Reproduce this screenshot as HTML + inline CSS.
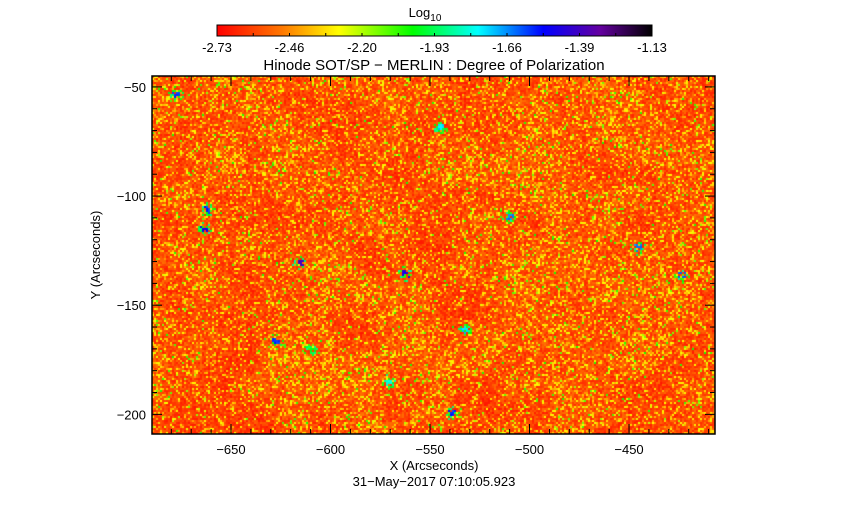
<!DOCTYPE html>
<html><head><meta charset="utf-8">
<style>
body{margin:0;background:#fff;width:868px;height:512px;overflow:hidden;position:relative;font-family:"Liberation Sans",sans-serif;}
svg{position:absolute;left:0;top:0}
canvas{position:absolute;left:152px;top:76px}
</style></head><body>
<canvas id="map" width="563" height="358"></canvas>
<svg id="s" width="868" height="512"></svg>
<script>
// Data
const xTicks=[-650,-600,-550,-500,-450];
const yTicks=[-50,-100,-150,-200];
const cbTicks=["-2.73","-2.46","-2.20","-1.93","-1.66","-1.39","-1.13"];
const blobX=[-678,-662,-664,-616,-563,-545,-533,-510,-446,-628,-539,-424,-610,-571];
const blobY=[-53,-106,-115,-130,-135,-68,-161,-109,-123,-166,-199,-136,-170,-185];
const blobV=[0.75,0.75,0.8,0.85,0.8,0.65,0.65,0.7,0.7,0.75,0.75,0.7,0.5,0.6];
// axes
const X0=-689.7,X1=-406.8,Y0=-45,Y1=-209;
const L=152,R=715,T=76,B=434;
const sx=v=>L+(v-X0)/(X1-X0)*(R-L);
const sy=v=>T+(v-Y0)/(Y1-Y0)*(B-T);
const stops=[[0,[255,0,0]],[0.15,[255,120,0]],[0.28,[255,255,0]],[0.45,[0,255,0]],[0.6,[0,255,255]],[0.75,[0,0,255]],[0.88,[100,0,160]],[1,[0,0,0]]];
function cmap(v){v=Math.max(0,Math.min(1,v));for(let i=1;i<stops.length;i++){if(v<=stops[i][0]){const a=stops[i-1],b=stops[i];const t=(v-a[0])/(b[0]-a[0]);return a[1].map((c,k)=>Math.round(c+(b[1][k]-c)*t));}}return [0,0,0];}
// map texture (seeded)
let seed=12345;const rnd=()=>{seed=(seed*1103515245+12345)&0x7fffffff;return seed/0x7fffffff;};
const c=document.getElementById('map'),ctx=c.getContext('2d');
const W=563,H=358,img=ctx.createImageData(W,H);
const cw=2,ch=2,gx=Math.ceil(W/cw),gy=Math.ceil(H/ch);
// low-frequency patchiness
const lf=[];const LW=Math.ceil(gx/12)+2,LH=Math.ceil(gy/12)+2;
for(let j=0;j<LH;j++){lf[j]=[];for(let i=0;i<LW;i++)lf[j][i]=rnd();}
function lfv(i,j){const fx=i/12,fy=j/12,x0=Math.floor(fx),y0=Math.floor(fy),tx=fx-x0,ty=fy-y0;return lf[y0][x0]*(1-tx)*(1-ty)+lf[y0][x0+1]*tx*(1-ty)+lf[y0+1][x0]*(1-tx)*ty+lf[y0+1][x0+1]*tx*ty;}
const grid=[];
for(let j=0;j<gy;j++){grid[j]=[];for(let i=0;i<gx;i++){const m=lfv(i,j);let v=0.02+0.1*rnd()+0.04*m;if(rnd()<0.1+0.2*m)v=0.18+0.12*rnd();if(rnd()<0.01+0.05*m*m)v=0.32+0.12*rnd();grid[j][i]=v;}}
for(let k=0;k<blobX.length;k++){const px=(sx(blobX[k])-L)/cw,py=(sy(blobY[k])-T)/ch;for(let j=-4;j<=4;j++)for(let i=-4;i<=4;i++){const d=Math.sqrt(i*i+j*j);const gi=Math.round(px+i+(rnd()-0.5)),gj=Math.round(py+j+(rnd()-0.5));if(gi<0||gj<0||gi>=gx||gj>=gy)continue;if(d<1.6&&rnd()<0.85)grid[gj][gi]=Math.max(grid[gj][gi],blobV[k]-0.05*rnd());else if(d<3.2&&rnd()<0.5)grid[gj][gi]=Math.max(grid[gj][gi],0.4+0.15*rnd());}}
for(let y=0;y<H;y++)for(let x=0;x<W;x++){const col=cmap(grid[Math.floor(y/ch)][Math.floor(x/cw)]);const o=(y*W+x)*4;img.data[o]=col[0];img.data[o+1]=col[1];img.data[o+2]=col[2];img.data[o+3]=255;}
ctx.putImageData(img,0,0);
// svg
const s=document.getElementById('s'),NS='http://www.w3.org/2000/svg';
function el(t,a,p){const e=document.createElementNS(NS,t);for(const k in a)e.setAttribute(k,a[k]);(p||s).appendChild(e);return e;}
function txt(x,y,str,anchor,size,name){const e=el('text',{x:x,y:y,'text-anchor':anchor||'middle','font-size':size||13,fill:'#000','font-family':'Liberation Sans, sans-serif'});e.textContent=str;return e;}
// colorbar
const defs=el('defs',{});const g=el('linearGradient',{id:'cb',x1:0,x2:1,y1:0,y2:0},defs);
stops.forEach(st=>el('stop',{offset:st[0],'stop-color':'rgb('+st[1].join(',')+')'},g));
const cb=el('rect',{x:217,y:25,width:435,height:11,fill:'url(#cb)',stroke:'#000','stroke-width':1});

cbTicks.forEach((t,i)=>{const x=217+i*435/(cbTicks.length-1);txt(x,52,t,'middle',13,'colorbar-tick-label');});
for(let i=0;i<=12;i++){const x=217+i*435/12;el('line',{x1:x,x2:x,y1:33,y2:36,stroke:'#000'});}
const lg=txt(425,17,'Log','middle',13,'colorbar-title');const sub=el('tspan',{dy:4,'font-size':10},lg);sub.textContent='10';
txt(434,70,'Hinode SOT/SP \u2212 MERLIN : Degree of Polarization','middle',15,'chart-title');
// frame
const fr=el('rect',{x:L,y:T,width:R-L,height:B-T,fill:'none',stroke:'#000','stroke-width':1.5});

for(let v=-680;v<=-410;v+=10){const x=sx(v),big=v%50===0;el('line',{x1:x,x2:x,y1:B,y2:B-(big?10:5),stroke:'#000'});el('line',{x1:x,x2:x,y1:T,y2:T+(big?10:5),stroke:'#000'});}
for(let v=-50;v>=-200;v-=10){const y=sy(v),big=v%50===0;el('line',{x1:L,x2:L+(big?10:5),y1:y,y2:y,stroke:'#000'});el('line',{x1:R,x2:R-(big?10:5),y1:y,y2:y,stroke:'#000'});}
xTicks.forEach(v=>txt(sx(v),454,String(v).replace('-','\u2212'),'middle',13,'x-tick-label'));
yTicks.forEach(v=>txt(L-6,sy(v)+5,String(v).replace('-','\u2212'),'end',13,'y-tick-label'));
txt(434,470,'X (Arcseconds)','middle',13,'x-axis-title');
const yt=txt(0,0,'Y (Arcseconds)','middle',13,'y-axis-title');yt.setAttribute('transform','translate(100,255) rotate(-90)');
txt(434,486,'31\u2212May\u22122017 07:10:05.923','middle',13,'timestamp');
</script>
</body></html>
